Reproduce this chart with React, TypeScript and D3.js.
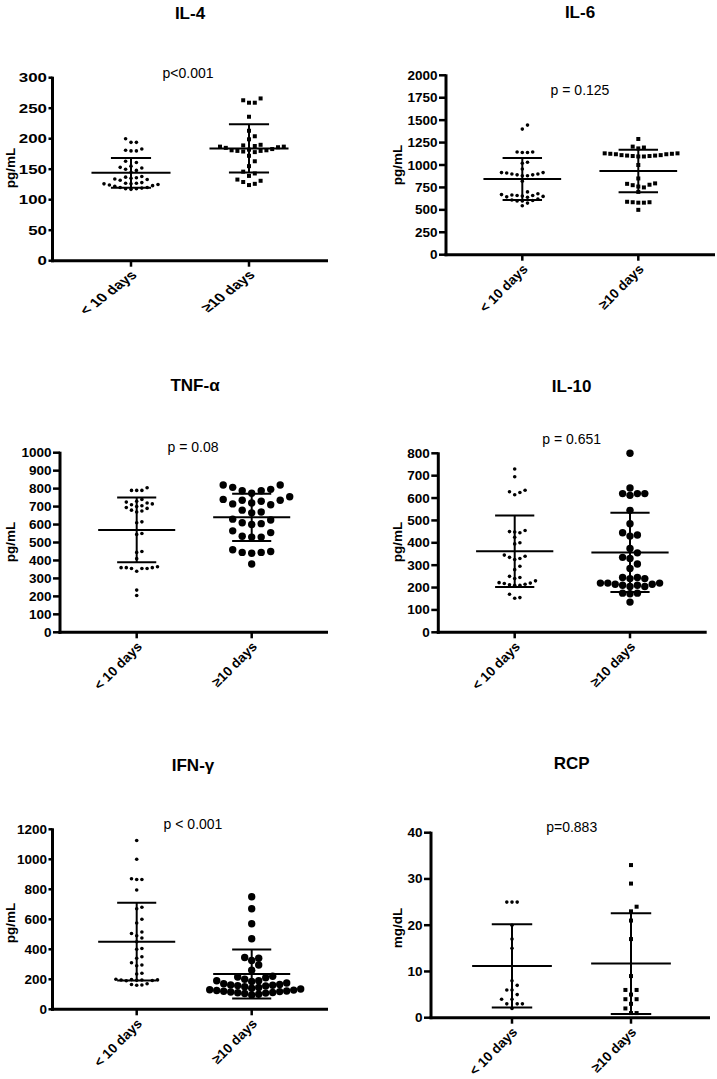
import React from "react";
import * as d3 from "d3";

// ---------- data ----------
const categories = ["< 10 days", "≥10 days"];

const il4Under = [200, 194, 194, 183, 181, 180, 180, 163, 161, 155, 153, 152, 150, 148, 145, 138, 137, 136, 135, 134, 133, 132, 128, 127, 127, 126, 126, 125, 124, 123, 122, 120, 120, 119, 118, 118, 117];
const il4Over = [266, 263, 259, 259, 236, 213, 204, 199, 190, 189, 188, 187, 187, 186, 185, 183, 182, 181, 181, 180, 180, 179, 178, 172, 163, 155, 146, 143, 139, 133, 131, 129, 126, 124];
const il4Mean = [144, 184];
const il4Sd = [24.5, 39.5];
const il4Ticks = [0, 50, 100, 150, 200, 250, 300];

const il6Under = [1445, 1400, 1145, 1140, 1140, 1145, 1030, 1020, 955, 915, 910, 900, 890, 880, 880, 890, 900, 915, 820, 700, 680, 670, 665, 660, 655, 650, 645, 640, 660, 620, 610, 605, 600, 600, 575, 545];
const il6Over = [1290, 1205, 1195, 1185, 1130, 1125, 1120, 1110, 1105, 1100, 1095, 1095, 1100, 1105, 1110, 1120, 1125, 1130, 1000, 850, 795, 790, 780, 775, 760, 750, 700, 590, 585, 580, 580, 585, 500];
const il6Mean = [845, 933];
const il6Sd = [234, 238];
const il6Ticks = [0, 250, 500, 750, 1000, 1250, 1500, 1750, 2000];

const tnfUnder = [805, 790, 790, 790, 740, 730, 725, 720, 715, 710, 705, 700, 695, 690, 680, 675, 670, 610, 615, 550, 545, 450, 445, 410, 365, 360, 360, 355, 355, 355, 360, 340, 235, 205];
const tnfOver = [820, 820, 807, 796, 788, 788, 774, 755, 740, 735, 735, 730, 720, 715, 710, 680, 670, 665, 630, 625, 610, 605, 600, 565, 555, 535, 530, 530, 460, 450, 445, 445, 440, 380];
const tnfMean = [570, 640];
const tnfSd = [180, 131];
const tnfTicks = [0, 100, 200, 300, 400, 500, 600, 700, 800, 900, 1000];

const il10Under = [730, 695, 635, 628, 625, 615, 455, 450, 448, 445, 425, 400, 395, 345, 340, 335, 330, 325, 295, 280, 250, 245, 240, 230, 222, 220, 218, 215, 212, 210, 210, 170, 155, 152];
const il10Over = [800, 645, 620, 612, 620, 620, 545, 485, 445, 435, 430, 375, 355, 335, 330, 305, 285, 245, 245, 240, 240, 220, 220, 215, 210, 210, 205, 205, 215, 220, 175, 175, 172, 135];
const il10Mean = [362, 357];
const il10Sd = [160, 177];
const il10Ticks = [0, 100, 200, 300, 400, 500, 600, 700, 800];

const ifnUnder = [1125, 1000, 870, 865, 865, 795, 680, 670, 600, 575, 515, 505, 490, 475, 450, 405, 400, 350, 340, 310, 295, 290, 240, 235, 200, 198, 196, 195, 195, 193, 192, 190, 170, 165, 162, 160];
const ifnOver = [750, 670, 570, 470, 345, 340, 325, 295, 260, 220, 215, 210, 200, 190, 190, 185, 175, 170, 165, 162, 160, 158, 155, 150, 145, 140, 135, 130, 128, 125, 122, 120, 118, 115, 112, 110, 108, 105, 100, 95];
const ifnMean = [451, 235];
const ifnSd = [259, 163];
const ifnTicks = [0, 200, 400, 600, 800, 1000, 1200];

const rcpUnder = [25, 25, 25, 20, 17, 15, 8, 7, 6, 6, 5, 4, 4, 3, 3, 3, 2];
const rcpOver = [33, 29, 24, 23, 21, 17, 9, 6, 6, 5, 4, 4, 3, 2, 1, 1];
const rcpMean = [11.2, 11.7];
const rcpSd = [9, 10.9];
const rcpTicks = [0, 10, 20, 30, 40];

const titles = ["IL-4", "IL-6", "TNF-α", "IL-10", "IFN-γ", "RCP"];
const pTexts = ["p<0.001", "p = 0.125", "p = 0.08", "p = 0.651", "p < 0.001", "p=0.883"];
const units = ["pg/mL", "pg/mL", "pg/mL", "pg/mL", "pg/mL", "mg/dL"];

type Marker = "dot" | "square" | "big";

const panels = [
  { groups: [il4Under, il4Over], means: il4Mean, sds: il4Sd, ticks: il4Ticks, markers: ["dot", "square"] as Marker[] },
  { groups: [il6Under, il6Over], means: il6Mean, sds: il6Sd, ticks: il6Ticks, markers: ["dot", "square"] as Marker[] },
  { groups: [tnfUnder, tnfOver], means: tnfMean, sds: tnfSd, ticks: tnfTicks, markers: ["dot", "big"] as Marker[] },
  { groups: [il10Under, il10Over], means: il10Mean, sds: il10Sd, ticks: il10Ticks, markers: ["dot", "big"] as Marker[] },
  { groups: [ifnUnder, ifnOver], means: ifnMean, sds: ifnSd, ticks: ifnTicks, markers: ["dot", "big"] as Marker[] },
  { groups: [rcpUnder, rcpOver], means: rcpMean, sds: rcpSd, ticks: rcpTicks, markers: ["dot", "square"] as Marker[] },
];

// ---------- layout ----------
type Lay = {
  ax: number; yTop: number; yBot: number; xEnd: number; c0: number; c1: number;
  tx: number; ty: number; px: number; py: number; lx: number; ly: number;
  sx: number; fTitle: number; fP: number; fTick: number; fX: number; tickLen: number; spc: number[];
};
const layout: Lay[] = [
  { ax: 52.5, yTop: 77.7, yBot: 260.7, xEnd: 328, c0: 131, c1: 249, tx: 190, ty: 13, px: 188, py: 73, lx: 10, ly: 168, sx: 1.3, fTitle: 17, fP: 14, fTick: 13, fX: 12.4, tickLen: 4, spc: [5.4, 5.8] },
  { ax: 446, yTop: 75.3, yBot: 254.7, xEnd: 715, c0: 522.3, c1: 638.3, tx: 580, ty: 12, px: 580, py: 90, lx: 397, ly: 165, sx: 1, fTitle: 17, fP: 14, fTick: 13.5, fX: 13.5, tickLen: 7, spc: [5.2, 5.6] },
  { ax: 60, yTop: 452.7, yBot: 632.3, xEnd: 328, c0: 136.7, c1: 251.7, tx: 195, ty: 385, px: 193, py: 447, lx: 10, ly: 542, sx: 1, fTitle: 17, fP: 14, fTick: 13.5, fX: 13.5, tickLen: 7, spc: [5.2, 9.5] },
  { ax: 438.3, yTop: 453.3, yBot: 632.3, xEnd: 706.7, c0: 514.7, c1: 630, tx: 571.7, ty: 386.7, px: 571.7, py: 439, lx: 397, ly: 542, sx: 1, fTitle: 17, fP: 14, fTick: 13.5, fX: 13.5, tickLen: 7, spc: [5.2, 7.4] },
  { ax: 52.5, yTop: 829.3, yBot: 1009.3, xEnd: 328, c0: 136.7, c1: 251.7, tx: 193, ty: 765, px: 193, py: 824, lx: 10, ly: 923, sx: 1, fTitle: 17, fP: 14, fTick: 13.5, fX: 13.5, tickLen: 4, spc: [5.2, 7.0] },
  { ax: 431, yTop: 832.7, yBot: 1017.7, xEnd: 710, c0: 512, c1: 631, tx: 571.7, ty: 763, px: 571.7, py: 826.7, lx: 397, ly: 928, sx: 1, fTitle: 17, fP: 14, fTick: 13.5, fX: 13.5, tickLen: 7, spc: [5.2, 5.6] },
];

const FONT = "'Liberation Sans', Arial, Helvetica, sans-serif";

function swarm(ys: number[], d: number): number[] {
  const order = ys.map((_, i) => i).sort((a, b) => ys[b] - ys[a]);
  const placed: { x: number; y: number }[] = [];
  const xs = new Array(ys.length).fill(0);
  for (const i of order) {
    const y = ys[i];
    for (let k = 0; k < 200; k++) {
      const m = Math.ceil(k / 2);
      const off = k === 0 ? 0 : k % 2 === 1 ? m * d : -m * d;
      const ok = placed.every((p) => (p.x - off) ** 2 + (p.y - y) ** 2 >= d * d * 0.9);
      if (ok) {
        xs[i] = off;
        placed.push({ x: off, y });
        break;
      }
    }
  }
  return xs;
}

function Panel({ idx }: { idx: number }) {
  const P = panels[idx];
  const L = layout[idx];
  const y = d3.scaleLinear().domain([0, P.ticks[P.ticks.length - 1]]).range([L.yBot, L.yTop]);
  const x = d3.scalePoint<string>().domain(categories).range([L.c0, L.c1]);
  const step = L.c1 - L.c0;
  const meanHalf = step * 0.335;
  const capHalf = step * 0.17;
  const sx = L.sx;
  const tf = (tx: number, ty: number, rot = 0, s = sx) =>
    `translate(${tx},${ty}) scale(${s},1)` + (rot ? ` rotate(${rot})` : "");

  return (
    <g>
      <text transform={tf(L.tx, L.ty, 0, 1)} textAnchor="middle" dominantBaseline="central" fontFamily={FONT} fontWeight="bold" fontSize={L.fTitle}>
        {titles[idx]}
      </text>
      <text transform={tf(L.px, L.py, 0, 1)} textAnchor="middle" dominantBaseline="central" fontFamily={FONT} fontSize={L.fP}>
        {pTexts[idx]}
      </text>
      <text transform={tf(L.lx, L.ly, -90, 1)} textAnchor="middle" dominantBaseline="central" fontFamily={FONT} fontWeight="bold" fontSize={13.5}>
        {units[idx]}
      </text>
      {P.ticks.map((t) => (
        <g key={t}>
          <line x1={L.ax - L.tickLen} x2={L.ax} y1={y(t)} y2={y(t)} stroke="#000" strokeWidth={2.5} />
          <text transform={tf(L.ax - L.tickLen - 1.5, y(t))} textAnchor="end" dominantBaseline="central" fontFamily={FONT} fontWeight="bold" fontSize={L.fTick}>
            {t}
          </text>
        </g>
      ))}
      <line x1={L.ax} x2={L.ax} y1={L.yTop - 1} y2={L.yBot + 1.5} stroke="#000" strokeWidth={3} />
      <line x1={L.ax - 1.5} x2={L.xEnd} y1={L.yBot} y2={L.yBot} stroke="#000" strokeWidth={3} />
      {categories.map((c) => (
        <g key={c}>
          <line x1={x(c)!} x2={x(c)!} y1={L.yBot} y2={L.yBot + 6} stroke="#000" strokeWidth={2.5} />
          <text transform={tf(x(c)! + 3, L.yBot + 12, -45)} textAnchor="end" dominantBaseline="central" fontFamily={FONT} fontWeight="bold" fontSize={L.fX}>
            {c}
          </text>
        </g>
      ))}
      {P.groups.map((vals, gi) => {
        const cx = x(categories[gi])!;
        const mk = P.markers[gi];
        const ys = vals.map((v) => y(v));
        const offs = swarm(ys, L.spc[gi]);
        return (
          <g key={gi}>
            {vals.map((v, i) => {
              const px = cx + offs[i];
              const py = ys[i];
              if (mk === "square") return <rect key={i} x={px - 2} y={py - 2} width={4} height={4} fill="#000" />;
              return <circle key={i} cx={px} cy={py} r={mk === "big" ? 3.7 : 1.8} fill="#000" />;
            })}
          </g>
        );
      })}
      {P.means.map((m, gi) => {
        const cx = x(categories[gi])!;
        const s = P.sds[gi];
        const lo = Math.max(0, m - s);
        return (
          <g key={"m" + gi} stroke="#000" strokeWidth={2}>
            <line x1={cx - meanHalf} x2={cx + meanHalf} y1={y(m)} y2={y(m)} />
            <line x1={cx} x2={cx} y1={y(m + s)} y2={y(lo)} />
            <line x1={cx - capHalf} x2={cx + capHalf} y1={y(m + s)} y2={y(m + s)} />
            <line x1={cx - capHalf} x2={cx + capHalf} y1={y(lo)} y2={y(lo)} />
          </g>
        );
      })}
    </g>
  );
}

export default function App() {
  return (
    <svg width={717} height={1079} style={{ position: "absolute", left: 0, top: 0, background: "#fff" }}>
      <rect width={717} height={1079} fill="#fff" />
      {panels.map((_, i) => (
        <Panel key={i} idx={i} />
      ))}
    </svg>
  );
}
